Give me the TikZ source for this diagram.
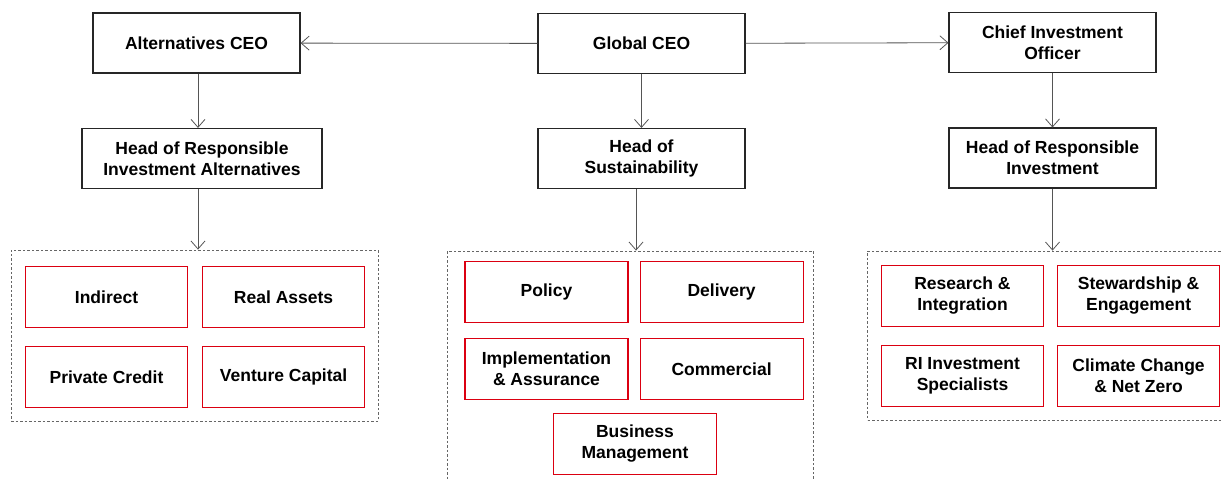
\documentclass[tikz,border=0pt]{standalone}
\usepackage{fontspec}
\setmainfont{Liberation Sans}
\usetikzlibrary{arrows.meta,positioning}
\definecolor{unitred}{RGB}{219,0,17}
\definecolor{linkgray}{RGB}{85,85,85}

\begin{document}
\begin{tikzpicture}[
  x=1pt, y=-1pt,
  node distance=18pt and 14pt,
  role/.style={rectangle, draw=black!85, line width=1.1pt, fill=white,
    minimum width=207pt, minimum height=60pt, align=center,
    inner sep=2pt, font=\fontsize{17.5}{21}\selectfont\bfseries},
  unit/.style={rectangle, draw=unitred, line width=1.1pt, fill=white,
    minimum width=162pt, minimum height=61pt, align=center,
    inner sep=2pt, font=\fontsize{17.5}{21}\selectfont\bfseries},
  group/.style={rectangle, draw=black!60, line width=0.8pt,
    dash pattern=on 2.5pt off 2pt, inner sep=0pt},
  arrow/.style={-{Straight Barb[length=8pt, width=14pt]}, line width=0.8pt, draw=linkgray}
]
\useasboundingbox (0,0) rectangle (1223,481);
\clip (0,0) rectangle (1223,481);

% Executive level
\node[role] (globalceo) at (641.5,43.5) {Global CEO};
\node[role] (altceo) at (196.5,43) {Alternatives CEO};
\node[role] (cio) at (1052.5,42.5) {Chief Investment\\Officer};

% Heads
\node[role, minimum width=240pt] (headalt) at (202,158.5)
  {Head of Responsible\\Investment Alternatives};
\node[role] (headsus) at (641.5,158.5) {Head of\\Sustainability};
\node[role] (headri) at (1052.5,158) {Head of Responsible\\Investment};

% Dashed groups
\node[group, minimum width=367pt, minimum height=171pt] (altgroup) at (194.5,335.5) {};
\node[group, minimum width=366pt, minimum height=244pt] (susgroup) at (630.5,373) {};
\node[group, minimum width=362pt, minimum height=169pt] (rigroup) at (1048.5,335.5) {};

% Alternatives teams
\node[unit] (indirect) at (106.5,297) {Indirect};
\node[unit, right=of indirect] (realassets) {Real Assets};
\node[unit, below=of indirect] (privcredit) {Private Credit};
\node[unit, below=of realassets] (venture) {Venture Capital};

% Sustainability teams
\node[unit, minimum width=163pt] (policy) at (546.5,292) {Policy};
\node[unit, minimum width=163pt, right=11pt of policy] (delivery) {Delivery};
\node[unit, minimum width=163pt, below=15pt of policy] (implement)
  {Implementation\\\& Assurance};
\node[unit, minimum width=163pt, below=15pt of delivery] (commercial) {Commercial};
\node[unit, minimum width=163pt] (busmgmt) at (635,444) {Business\\Management};

% Responsible investment teams
\node[unit] (research) at (962.5,296) {Research \&\\Integration};
\node[unit, right=13pt of research] (stewardship) {Stewardship \&\\Engagement};
\node[unit, below=of research] (rispec) {RI Investment\\Specialists};
\node[unit, below=of stewardship] (climate) {Climate Change\\\& Net Zero};

% Arrows
\draw[arrow] (globalceo) -- (altceo);
\draw[arrow] (globalceo) -- (cio);
\draw[arrow] ([xshift=1.5pt]altceo.south) -- ([xshift=1.5pt]altceo.south |- headalt.north);
\draw[arrow] (globalceo) -- (headsus);
\draw[arrow] (cio) -- (headri);
\draw[arrow] ([xshift=-4pt]headalt.south) -- ([xshift=-4pt]headalt.south |- altgroup.north);
\draw[arrow] ([xshift=-5.5pt]headsus.south) -- ([xshift=-5.5pt]headsus.south |- susgroup.north);
\draw[arrow] (headri.south) -- (headri.south |- rigroup.north);
\end{tikzpicture}
\end{document}
